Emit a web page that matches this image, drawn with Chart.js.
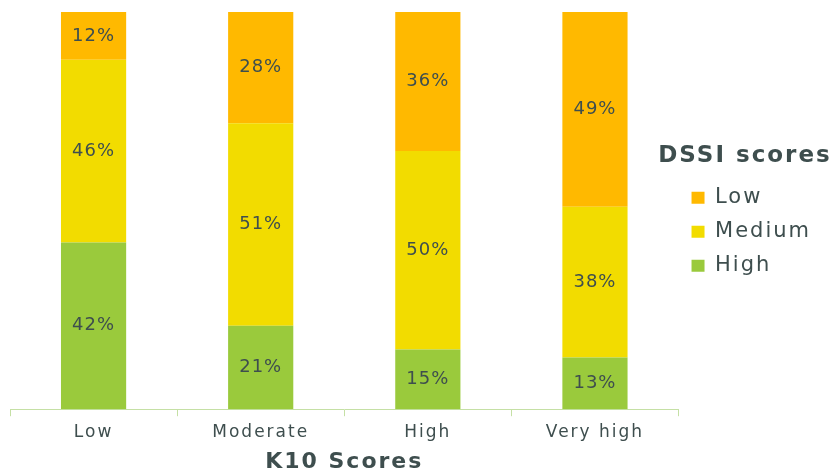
<!DOCTYPE html>
<html>
<head>
<meta charset="utf-8">
<script src="https://cdn.jsdelivr.net/npm/chart.js@4/dist/chart.umd.min.js"></script>
<style>
  html, body { margin: 0; padding: 0; background: #fff; }
  #wrap { width: 835px; height: 475px; }
</style>
</head>
<body>
<div id="wrap"><canvas id="Chart"></canvas></div>
<script>
"use strict";

// K10 categories and DSSI shares (%)
var categories = ['Low', 'Moderate', 'High', 'Very high'];
var dssiHigh = [42, 21, 15, 13];
var dssiMedium = [46, 51, 50, 38];
var dssiLow = [12, 28, 36, 49];

var textColor = '#3e4e4e';
var fontFamily = '"DejaVu Sans", Verdana, sans-serif';

// the original text is set wide, so space the letters out a bit
var wideText = {
  id: 'wideText',
  beforeUpdate: function (chart) { chart.ctx.letterSpacing = '2px'; },
  beforeDraw: function (chart) { chart.ctx.letterSpacing = '2px'; }
};

// percent labels in the middle of each segment
var barLabels = {
  id: 'barLabels',
  afterDatasetsDraw: function (chart) {
    var ctx = chart.ctx;
    var area = chart.chartArea;
    ctx.save();
    ctx.letterSpacing = '1px';
    ctx.font = '18px ' + fontFamily;
    ctx.fillStyle = textColor;
    ctx.textAlign = 'center';
    ctx.textBaseline = 'middle';
    chart.data.datasets.forEach(function (ds, i) {
      chart.getDatasetMeta(i).data.forEach(function (bar, j) {
        var top = Math.max(bar.y, area.top);
        var bottom = Math.min(bar.base, area.bottom);
        ctx.fillText(ds.data[j] + '%', bar.x, (top + bottom) / 2);
      });
    });
    ctx.restore();
  }
};

// legend heading is wider than the legend box, so draw it here
var legendHeading = {
  id: 'legendHeading',
  afterDraw: function (chart) {
    var ctx = chart.ctx;
    var first = chart.legend.legendHitBoxes[0];
    ctx.save();
    ctx.letterSpacing = '2px';
    ctx.font = 'bold 23px ' + fontFamily;
    ctx.fillStyle = textColor;
    ctx.textAlign = 'center';
    ctx.textBaseline = 'middle';
    ctx.fillText('DSSI scores', chart.width - 90, first.top + first.height / 2 - 42);
    ctx.restore();
  }
};

var ctx = document.getElementById('Chart').getContext('2d');
var chart = new Chart(ctx, {
  type: 'bar',
  data: {
    labels: categories,
    datasets: [
      { label: 'High', data: dssiHigh, backgroundColor: '#9aca3c' },
      { label: 'Medium', data: dssiMedium, backgroundColor: '#f2dc00' },
      { label: 'Low', data: dssiLow, backgroundColor: '#ffb900' }
    ]
  },
  options: {
    responsive: true,
    maintainAspectRatio: false,
    animation: false,
    categoryPercentage: 1,
    barPercentage: 0.39,
    layout: { padding: { left: 10, top: 12, bottom: 0, right: 14 } },
    plugins: {
      tooltip: { enabled: false },
      legend: {
        position: 'right',
        align: 'start',
        reverse: true,
        title: {
          // only keeps the room, the text is drawn by legendHeading
          display: true,
          text: 'DSSI scores',
          color: 'rgba(0,0,0,0)',
          font: { family: fontFamily, size: 21, weight: 'bold' },
          padding: { top: 133, bottom: 4 }
        },
        labels: {
          color: textColor,
          font: { family: fontFamily, size: 21 },
          boxWidth: 13,
          boxHeight: 12,
          padding: 13
        }
      }
    },
    scales: {
      x: {
        stacked: true,
        grid: {
          drawOnChartArea: false,
          drawTicks: true,
          tickLength: 7,
          color: '#c5e0a5'
        },
        border: { display: true, color: '#c5e0a5' },
        ticks: {
          color: textColor,
          font: { family: fontFamily, size: 17 },
          padding: 6
        },
        title: {
          display: true,
          text: 'K10 Scores',
          color: textColor,
          font: { family: fontFamily, size: 22, weight: 'bold' },
          padding: { top: 0, bottom: 0 }
        }
      },
      y: {
        stacked: true,
        display: false,
        min: 0,
        max: 100
      }
    }
  },
  plugins: [wideText, barLabels, legendHeading]
});
</script>
</body>
</html>
